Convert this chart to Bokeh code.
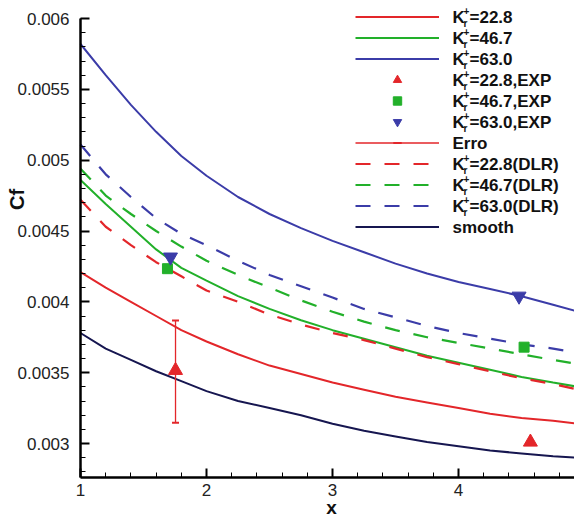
import math
from bokeh.plotting import figure
from bokeh.embed import file_html
from bokeh.resources import INLINE
from bokeh.models import (Range1d, FixedTicker, NumeralTickFormatter, Label,
                          Legend, LegendItem)

# ---------------- data ----------------
xs = [1.0, 1.2, 1.4, 1.6, 1.8, 2.0, 2.25, 2.5, 2.75, 3.0, 3.25, 3.5, 3.75, 4.0, 4.25, 4.5, 4.75, 4.95]
cf_228 = [0.00421, 0.00410, 0.00400, 0.00390, 0.00380, 0.00372, 0.00363, 0.00355, 0.00349, 0.00343,
          0.00338, 0.00333, 0.00329, 0.00325, 0.00321, 0.00318, 0.00316, 0.00314]
cf_467 = [0.00486, 0.00469, 0.00453, 0.00437, 0.00424, 0.00415, 0.00404, 0.00395, 0.00387, 0.00380,
          0.00374, 0.00368, 0.00362, 0.00357, 0.00352, 0.00347, 0.00343, 0.00340]
cf_630 = [0.00582, 0.00560, 0.00539, 0.00520, 0.00503, 0.00489, 0.00474, 0.00462, 0.00452, 0.00443,
          0.00435, 0.00427, 0.00420, 0.00414, 0.00409, 0.00404, 0.00398, 0.00393]
dlr_228 = [0.00472, 0.00453, 0.00440, 0.00428, 0.00418, 0.00408, 0.00400, 0.00391, 0.00384, 0.00378,
           0.00373, 0.00367, 0.00361, 0.00356, 0.00351, 0.00346, 0.00342, 0.00338]
dlr_467 = [0.00494, 0.00475, 0.00462, 0.00450, 0.00439, 0.00429, 0.00419, 0.00410, 0.00401, 0.00393,
           0.00386, 0.00380, 0.00375, 0.00371, 0.00367, 0.00363, 0.00359, 0.00356]
dlr_630 = [0.00511, 0.00490, 0.00474, 0.00459, 0.00448, 0.00440, 0.00429, 0.00419, 0.00411, 0.00403,
           0.00395, 0.00389, 0.00383, 0.00378, 0.00374, 0.00370, 0.00367, 0.00364]
cf_smooth = [0.00378, 0.00367, 0.00359, 0.00351, 0.00344, 0.00337, 0.00330, 0.00325, 0.00320, 0.00314,
             0.00309, 0.00305, 0.00301, 0.00298, 0.00295, 0.00293, 0.00291, 0.00290]

exp_x_228 = [1.754, 4.57]
exp_y_228 = [0.003516, 0.00301]
exp_x_467 = [1.69, 4.52]
exp_y_467 = [0.004234, 0.00368]
exp_x_630 = [1.714, 4.48]
exp_y_630 = [0.004316, 0.00404]

err_x = [1.754]
err_low = [0.003147]
err_high = [0.003869]

x_ticks = [1, 2, 3, 4]
y_ticks = [0.003, 0.0035, 0.004, 0.0045, 0.005, 0.0055, 0.006]

legend_values = ["22.8", "46.7", "63.0", "22.8,EXP", "46.7,EXP", "63.0,EXP",
                 None, "22.8(DLR)", "46.7(DLR)", "63.0(DLR)", None]
legend_plain = {6: "Erro", 10: "smooth"}

# ---------------- layout / style ----------------
W, H = 574, 518
AX_LEFT_PX, AX_BOTTOM_PX, TOP_PX = 80, 477, 18      # canvas pixels of the axes
X0, X_MAX = 1.0, 4.92
Y0, Y_TOP = 0.00276, 0.006
px_per_x = (W - AX_LEFT_PX) / (X_MAX - X0)
px_per_y = (AX_BOTTOM_PX - TOP_PX) / (Y_TOP - Y0)

RED = "#e3262a"
GREEN = "#22b02a"
BLUE = "#3b3ca8"
NAVY = "#161650"
FONT = "Liberation Sans"
TXT = "#111111"

p = figure(width=W, height=H, output_backend="svg", toolbar_location=None,
           x_range=Range1d(X0 - AX_LEFT_PX / px_per_x, X_MAX),
           y_range=Range1d(Y0 - (H - AX_BOTTOM_PX) / px_per_y, Y_TOP + TOP_PX / px_per_y),
           min_border=0)
p.outline_line_color = None
p.xgrid.visible = False
p.ygrid.visible = False
p.background_fill_color = "white"
p.border_fill_color = "white"

xa, ya = p.xaxis[0], p.yaxis[0]
xa.fixed_location = Y0
ya.fixed_location = X0
xa.bounds = (X0, X_MAX)
ya.bounds = (Y0, Y_TOP)

for ax in (xa, ya):
    ax.axis_line_width = 2.5
    ax.axis_line_color = "black"
    ax.major_tick_in = 9
    ax.major_tick_out = 0
    ax.major_tick_line_width = 2
    ax.minor_tick_in = 5
    ax.minor_tick_out = 0
    ax.minor_tick_line_width = 1
    ax.major_label_text_font = FONT
    ax.major_label_text_font_size = "17px"
    ax.major_label_text_color = "#222222"

xa.ticker = FixedTicker(ticks=x_ticks, minor_ticks=[1 + 0.2 * i for i in range(1, 20)])
ya.ticker = FixedTicker(ticks=y_ticks, minor_ticks=[0.0028 + 0.0001 * i for i in range(0, 33)])
ya.formatter = NumeralTickFormatter(format="0.[0000]")
xa.formatter = NumeralTickFormatter(format="0")
xa.major_label_standoff = 6
ya.major_label_standoff = 11

# ---------------- curves ----------------
r1 = p.line(xs, cf_228, line_color=RED, line_width=2)
r2 = p.line(xs, cf_467, line_color=GREEN, line_width=2)
r3 = p.line(xs, cf_630, line_color=BLUE, line_width=2)
r7 = p.line(xs, dlr_228, line_color=RED, line_width=2.2, line_dash="15 14")
r8 = p.line(xs, dlr_467, line_color=GREEN, line_width=2.2, line_dash="15 14")
r9 = p.line(xs, dlr_630, line_color=BLUE, line_width=2.2, line_dash="15 14")
r10 = p.line(xs, cf_smooth, line_color=NAVY, line_width=2)

r6a = p.segment(x0=err_x, y0=err_low, x1=err_x, y1=err_high, line_color=RED, line_width=1.3)
r6b = p.scatter(err_x + err_x, err_low + err_high, marker="dash", size=7,
                line_color=RED, line_width=2)

r4 = p.scatter(exp_x_228, exp_y_228, marker="triangle", size=14,
               fill_color=RED, line_color=RED)
r5 = p.scatter(exp_x_467, exp_y_467, marker="square", size=10,
               fill_color=GREEN, line_color=GREEN)
r6 = p.scatter(exp_x_630, exp_y_630, marker="inverted_triangle", size=14,
               fill_color=BLUE, line_color=BLUE)

# ---------------- legend (glyph samples) ----------------
renderers = [[r1], [r2], [r3], [r4], [r5], [r6], [r6a, r6b], [r7], [r8], [r9], [r10]]
items = [LegendItem(label=" ", renderers=rs) for rs in renderers]
ROW = 21
LEG_TOP = 6
LEG_LEFT = 355
legend = Legend(items=items, location=(LEG_LEFT, H - LEG_TOP - ROW * len(items)),
                glyph_width=84, glyph_height=ROW, label_height=ROW, spacing=0,
                label_standoff=0, padding=0, margin=0, label_width=10,
                border_line_alpha=0, background_fill_alpha=0,
                label_text_font_size="8px")
p.add_layout(legend, "center")

# legend texts (screen units: from left / from bottom of the canvas-sized frame)
TX = 452
for i, val in enumerate(legend_values):
    cy = H - (LEG_TOP + ROW * i + ROW / 2)
    common = dict(x_units="screen", y_units="screen", text_font=FONT,
                  text_font_style="bold", text_baseline="middle", text_align="left",
                  text_color=TXT)
    if val is None:
        p.add_layout(Label(x=TX, y=cy, text=legend_plain[i], text_font_size="17px", **common))
        continue
    p.add_layout(Label(x=TX, y=cy, text="K", text_font_size="17px", **common))
    p.add_layout(Label(x=TX + 11, y=cy + 6, text="+", text_font_size="10px", **common))
    p.add_layout(Label(x=TX + 11, y=cy - 6, text="r", text_font_size="10px", **common))
    p.add_layout(Label(x=TX + 17, y=cy, text="=" + val, text_font_size="17px", **common))

# axis titles
p.add_layout(Label(x=16, y=H - 199, x_units="screen", y_units="screen", text="Cf",
                   angle=math.pi / 2, text_font=FONT, text_font_style="bold",
                   text_font_size="20px", text_align="center", text_baseline="middle",
                   text_color=TXT))
p.add_layout(Label(x=331, y=1, x_units="screen", y_units="screen", text="x",
                   text_font=FONT, text_font_style="bold", text_font_size="19px",
                   text_align="center", text_baseline="bottom", text_color=TXT))

open("out.html", "w").write(file_html(p, INLINE))
